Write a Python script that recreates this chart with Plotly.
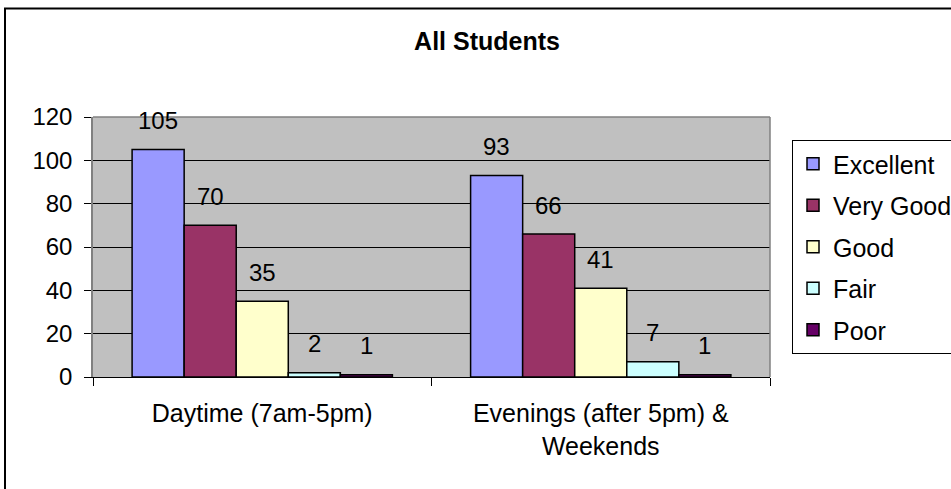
import plotly.graph_objects as go

categories = ["Daytime (7am-5pm)", "Evenings (after 5pm) &<br>Weekends"]
series_names = ["Excellent", "Very Good", "Good", "Fair", "Poor"]
excellent = [105, 93]
very_good = [70, 66]
good = [35, 41]
fair = [2, 7]
poor = [1, 1]
series_values = [excellent, very_good, good, fair, poor]
series_colors = ["#9999FF", "#993366", "#FFFFCC", "#CCFFFF", "#660066"]
y_ticks = [0, 20, 40, 60, 80, 100, 120]

FONT = "Liberation Sans, Arial, sans-serif"
BARGAP = 0.231
n = len(series_names)
bar_w = (1 - BARGAP) / n

fig = go.Figure()
for i, (name, vals, col) in enumerate(zip(series_names, series_values, series_colors)):
    fig.add_trace(go.Bar(
        x=list(range(len(categories))), y=vals, name=name, legendgroup=name,
        marker=dict(color=col, line=dict(color="black", width=1.5)),
    ))

annotations = []
for i, vals in enumerate(series_values):
    for j, v in enumerate(vals):
        annotations.append(dict(
            x=j + (i - (n - 1) / 2) * bar_w, y=v, xref="x", yref="y",
            text=str(v), showarrow=False, yanchor="middle", yshift=29,
            font=dict(family=FONT, size=24, color="black"),
        ))

L, R, T, B = 93, 770, 117, 377
W, H = 951, 489
pw, ph = R - L, B - T
def px_x(p):
    return (p - L) / pw
def px_y(p):
    return (B - p) / ph

shapes = [
    # outer chart frame
    dict(type="rect", xref="paper", yref="paper",
         x0=px_x(5), x1=px_x(990), y0=px_y(520), y1=px_y(8.5),
         line=dict(color="black", width=2), fillcolor="rgba(0,0,0,0)", layer="below"),
    # plot area top & right border
    dict(type="line", xref="paper", yref="paper", x0=0, x1=1, y0=1, y1=1,
         line=dict(color="#808080", width=1.5), layer="above"),
    dict(type="line", xref="paper", yref="paper", x0=1, x1=1, y0=0, y1=1,
         line=dict(color="#808080", width=1.5), layer="above"),
]

fig.update_layout(
    width=W, height=H,
    margin=dict(l=L, r=W - R, t=T, b=H - B, autoexpand=False),
    paper_bgcolor="white", plot_bgcolor="#C0C0C0",
    barmode="group", bargap=BARGAP, bargroupgap=0,
    font=dict(family=FONT, size=24, color="black"),
    title=dict(text="<b>All Students</b>", xref="container", yref="container",
               x=487 / W, y=1 - 41 / H, xanchor="center", yanchor="middle",
               font=dict(family=FONT, size=25, color="black")),
    xaxis=dict(
        tickmode="array", tickvals=list(range(len(categories))), ticktext=categories,
        range=[-0.5, len(categories) - 0.5],
        showgrid=False, zeroline=False,
        showline=True, linecolor="black", linewidth=1,
        ticks="", tickfont=dict(family=FONT, size=25),
        ticklabelstandoff=14,
        minor=dict(tick0=-0.5, dtick=1, ticks="outside", ticklen=8,
                   tickcolor="black", showgrid=False),
    ),
    yaxis=dict(
        range=[0, 120], tickvals=y_ticks,
        showgrid=True, gridcolor="black", gridwidth=1, zeroline=False,
        showline=True, linecolor="#808080", linewidth=1.5,
        ticks="outside", ticklen=7, tickcolor="black",
        tickfont=dict(family=FONT, size=24), ticklabelstandoff=7,
    ),
    legend=dict(
        x=px_x(792), y=px_y(140), xanchor="left", yanchor="top",
        bordercolor="black", borderwidth=1, bgcolor="white",
        font=dict(family=FONT, size=25), traceorder="grouped",
        tracegroupgap=6,
    ),
    annotations=annotations,
    shapes=shapes,
    showlegend=True,
)

fig.write_html(
    "out.html",
    config={"displayModeBar": False},
    post_script="document.body.style.margin='0';document.body.style.overflow='hidden';",
)
